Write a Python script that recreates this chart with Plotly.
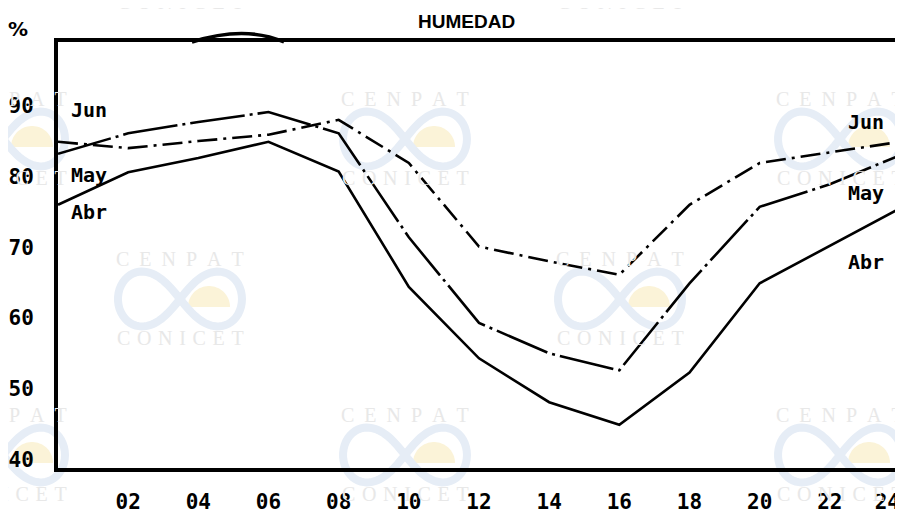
import numpy as np
import plotly.graph_objects as go

# ---- data ----
hours = [0, 2, 4, 6, 8, 10, 12, 14, 16, 18, 20, 22, 24]
hour_ticks = [2, 4, 6, 8, 10, 12, 14, 16, 18, 20, 22, 24]
hour_labels = ["02", "04", "06", "08", "10", "12", "14", "16", "18", "20", "22", "24\u00a0\u00a0"]
abr = [76.0, 80.6, 82.6, 84.9, 80.7, 64.4, 54.3, 48.1, 44.9, 52.3, 64.9, 70.2, 75.5]
may = [83.2, 86.1, 87.7, 89.1, 86.1, 71.4, 59.3, 55.0, 52.6, 64.9, 75.7, 78.9, 83.0]
jun = [84.9, 84.0, 85.0, 85.9, 88.0, 81.9, 70.1, 68.0, 66.1, 76.0, 81.9, 83.4, 84.9]
y_ticks = [40, 50, 60, 70, 80, 90]
y_labels = ["40", "50", "60", "70", "80", "90"]

W, H = 903, 514
OFF = 8                       # page body margin offset
X0, X1, Y0, Y1 = 58, 900, 42, 468   # plot area on the page (pixels)
L, T = X0 - OFF, Y0 - OFF
R, B = W - L - (X1 - X0), H - T - (Y1 - Y0)


def px(x):
    return (x - X0) / (X1 - X0)


def py(y):
    return (Y1 - y) / (Y1 - Y0)


fig = go.Figure()

# ---- faint scan watermarks (CENPAT / CONICET) ----
wm_color = "#e8e8e8"
logo_color = "#e6edf6"
sun_color = "#fbf3d8"
tiles = [(180, -77), (620, -77), (180, 259), (620, 259),
         (3, 99), (405, 99), (840, 99), (3, 415), (405, 415), (840, 415)]
t = np.linspace(0, 2 * np.pi, 120)
ang = np.linspace(0, np.pi, 40)
for cx, cy in tiles:
    fig.add_annotation(text="\u2002".join("CENPAT"), x=px(cx), y=py(cy), xref="paper", yref="paper",
                       xanchor="center", yanchor="middle", showarrow=False,
                       font=dict(family="Liberation Serif", size=20, color=wm_color))
    fig.add_annotation(text="\u2004".join("CONICET"), x=px(cx), y=py(cy + 79), xref="paper", yref="paper",
                       xanchor="center", yanchor="middle", showarrow=False,
                       font=dict(family="Liberation Serif", size=20, color=wm_color))
    sx, sy, r = cx + 29, cy + 48, 21
    sun = "M " + " L ".join(f"{px(sx + r * np.cos(q)):.4f},{py(sy - r * np.sin(q)):.4f}" for q in ang) + " Z"
    fig.add_shape(type="path", path=sun, xref="paper", yref="paper",
                  line=dict(width=0), fillcolor=sun_color, layer="below")
    a = 62
    lx = cx + a * np.cos(t) / (1 + np.sin(t) ** 2)
    ly = cy + 40 + 1.25 * a * np.sin(t) * np.cos(t) / (1 + np.sin(t) ** 2)
    path = "M " + " L ".join(f"{px(u):.4f},{py(v):.4f}" for u, v in zip(lx, ly)) + " Z"
    fig.add_shape(type="path", path=path, xref="paper", yref="paper",
                  line=dict(color=logo_color, width=8), layer="below")

# small hand-drawn bump on the top frame line
fig.add_shape(type="path", xref="paper", yref="paper",
              path=f"M {px(192):.4f},{py(42):.4f} Q {px(245):.4f},{py(25):.4f} {px(284):.4f},{py(42):.4f}",
              line=dict(color="black", width=3.5))

# ---- series ----
fig.add_trace(go.Scatter(x=hours, y=abr, mode="lines", name="Abr",
                         line=dict(color="black", width=2.6)))
fig.add_trace(go.Scatter(x=hours, y=may, mode="lines", name="May",
                         line=dict(color="black", width=2.6, dash="55px,5px,3px,5px")))
fig.add_trace(go.Scatter(x=hours, y=jun, mode="lines", name="Jun",
                         line=dict(color="black", width=2.6, dash="20px,6px,3px,6px")))

lab_font = dict(family="DejaVu Sans Mono", size=20, color="black")
for txt, yv in [("Jun", 89.4), ("May", 80.2), ("Abr", 75.0)]:
    fig.add_annotation(text=f"<b>{txt}</b>", x=0.3, y=yv, xanchor="left", yanchor="middle",
                       showarrow=False, font=lab_font)
for txt, yv in [("Jun", 87.7), ("May", 77.7), ("Abr", 67.9)]:
    fig.add_annotation(text=f"<b>{txt}</b>", x=23.6, y=yv, xanchor="right", yanchor="middle",
                       showarrow=False, font=lab_font)

fig.add_annotation(text="<b>HUMEDAD</b>", x=px(466), y=py(21), xref="paper", yref="paper",
                   xanchor="center", yanchor="middle", showarrow=False,
                   font=dict(family="Liberation Sans", size=19, color="black"))
fig.add_annotation(text="<b>%</b>", x=px(18), y=py(29), xref="paper", yref="paper",
                   xanchor="center", yanchor="middle", showarrow=False,
                   font=dict(family="DejaVu Sans", size=20, color="black"))

tick_font = dict(family="DejaVu Sans Mono", size=21, color="black", weight="bold")
fig.update_layout(
    template="none",
    width=W, height=H,
    margin=dict(l=L, r=R, t=T, b=B, pad=0),
    paper_bgcolor="white", plot_bgcolor="rgba(0,0,0,0)",
    showlegend=False,
    xaxis=dict(range=[0, 24], tickvals=hour_ticks, ticktext=hour_labels, showgrid=False,
               zeroline=False, showline=True, mirror=True, linecolor="black", linewidth=4,
               ticks="", tickfont=tick_font, ticklabelstandoff=12, automargin=False,
               ticklabeloverflow="allow"),
    yaxis=dict(range=[38.8, 99.0], tickvals=y_ticks, ticktext=y_labels, showgrid=False,
               zeroline=False, showline=True, mirror=True, linecolor="black", linewidth=4,
               ticks="", tickfont=tick_font, ticklabelstandoff=16, automargin=False,
               ticklabeloverflow="allow"),
)

fig.write_html("out.html")
